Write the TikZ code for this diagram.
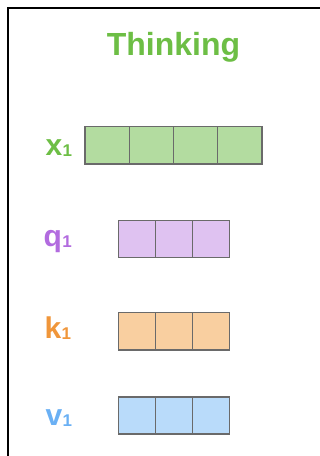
\documentclass[tikz,border=0pt]{standalone}
\usepackage{fontspec}
\setmainfont{Liberation Sans}
\usetikzlibrary{positioning}

\definecolor{grntext}{HTML}{6DBE45}
\definecolor{grnfill}{HTML}{B3DCA0}
\definecolor{purtext}{HTML}{B26BDF}
\definecolor{purfill}{HTML}{DFC2F1}
\definecolor{orgtext}{HTML}{F0963A}
\definecolor{orgfill}{HTML}{F9CFA0}
\definecolor{blutext}{HTML}{6AB0F4}
\definecolor{blufill}{HTML}{B9DBFA}
\definecolor{cellline}{HTML}{6A6A6A}

\newcommand{\veclabel}[1]{\fontsize{30}{30}\selectfont\bfseries #1\kern0.3pt\raisebox{-1pt}{\fontsize{17}{17}\selectfont 1}}

\begin{document}
\begin{tikzpicture}[x=1pt, y=-1pt,
    cell/.style={draw=cellline, line width=1.4pt, minimum height=37.3pt, inner sep=0pt},
    wide/.style={cell, minimum width=44.2pt},
    narrow/.style={cell, minimum width=37.1pt},
    veclbl/.style={anchor=base west, inner sep=0pt}]
    \useasboundingbox (0,0) rectangle (320,456);
    \draw[line width=2.4pt] (321,8) -- (8,8) -- (8,457);
    \node[anchor=base, inner sep=0pt, text=grntext] (title) at (173.5,55) {\fontsize{32}{32}\selectfont\bfseries Thinking};
    % x_1
    \node[veclbl, text=grntext] (lx) at (45.5,155.7) {\veclabel{x}};
    \node[wide, fill=grnfill] (x1) at (107.1,145.4) {};
    \node[wide, fill=grnfill] (x2) at (151.3,145.4) {};
    \node[wide, fill=grnfill] (x3) at (195.5,145.4) {};
    \node[wide, fill=grnfill] (x4) at (239.7,145.4) {};
    % q_1
    \node[veclbl, text=purtext] (lq) at (43.5,246.7) {\veclabel{q}};
    \node[narrow, fill=purfill] (q1) at (136.9,239) {};
    \node[narrow, fill=purfill] (q2) at (174.0,239) {};
    \node[narrow, fill=purfill] (q3) at (211.1,239) {};
    % k_1
    \node[veclbl, text=orgtext] (lk) at (44.5,338.3) {\veclabel{k}};
    \node[narrow, fill=orgfill] (k1) at (136.9,331.4) {};
    \node[narrow, fill=orgfill] (k2) at (174.0,331.4) {};
    \node[narrow, fill=orgfill] (k3) at (211.1,331.4) {};
    % v_1
    \node[veclbl, text=blutext] (lv) at (45.5,425) {\veclabel{v}};
    \node[narrow, fill=blufill] (v1) at (136.9,415.5) {};
    \node[narrow, fill=blufill] (v2) at (174.0,415.5) {};
    \node[narrow, fill=blufill] (v3) at (211.1,415.5) {};
\end{tikzpicture}
\end{document}
